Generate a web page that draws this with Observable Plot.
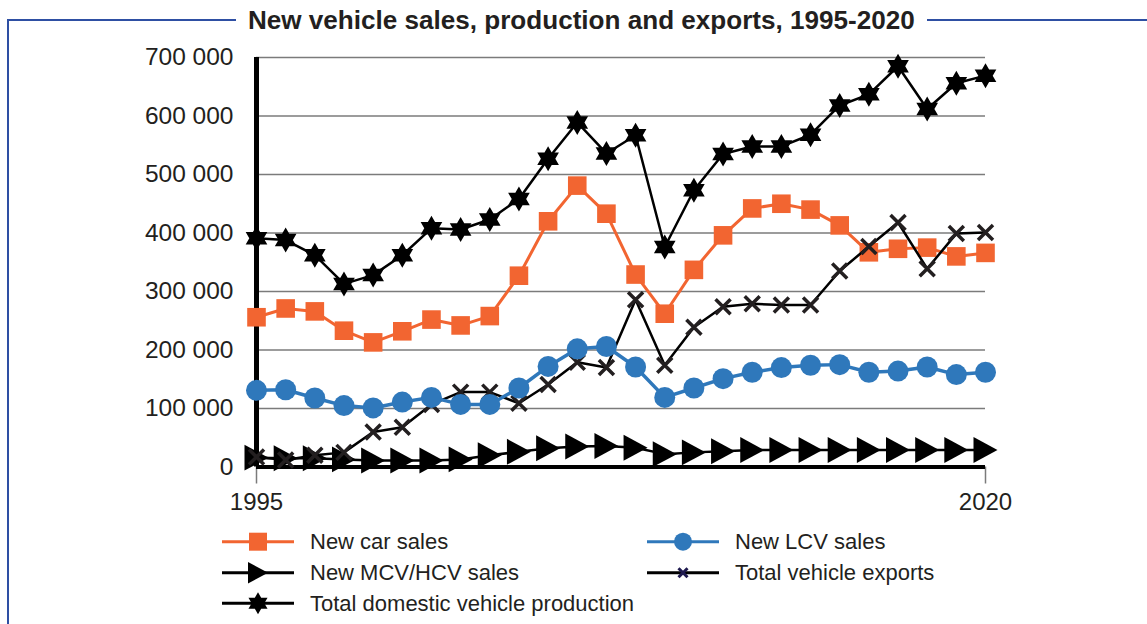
<!DOCTYPE html>
<html><head><meta charset="utf-8">
<script src="https://cdn.jsdelivr.net/npm/d3@7"></script>
<script src="https://cdn.jsdelivr.net/npm/@observablehq/plot@0.6"></script>
<style>
body{margin:0;background:#fff;}
#wrap{position:relative;width:1147px;height:624px;overflow:hidden;font-family:"Liberation Sans",Arial,sans-serif;color:#231f20;}
.fr{position:absolute;background:#2e4fa3;}
#title{position:absolute;top:4px;left:248px;white-space:nowrap;font-weight:bold;font-size:25px;line-height:32px;background:#fff;}
#chart{position:absolute;left:0;top:0;}
#legend{position:absolute;left:0;top:0;}
</style></head>
<body>
<div id="wrap">
  <div class="fr" style="left:7px;top:19px;width:229px;height:2px"></div>
  <div class="fr" style="left:927px;top:19px;width:220px;height:2px"></div>
  <div class="fr" style="left:7px;top:19px;width:2px;height:605px"></div>
  <div id="chart"></div>
  <svg id="legend" width="1147" height="624"></svg>
  <div id="title">New vehicle sales, production and exports, 1995-2020</div>
</div>
<script>
const years = [1995,1996,1997,1998,1999,2000,2001,2002,2003,2004,2005,2006,2007,2008,2009,2010,2011,2012,2013,2014,2015,2016,2017,2018,2019,2020];
const carSales = [256000,271000,266000,233000,213000,232000,252000,242000,258000,327000,420000,481000,433000,329000,262000,337000,396000,442000,450000,440000,413000,367000,373000,375000,360000,366000];
const lcvSales = [131000,132000,118000,105000,101000,111000,119000,107000,107000,135000,172000,202000,206000,171000,119000,135000,151000,162000,170000,174000,175000,162000,164000,171000,158000,162000];
const mcvSales = [16000,15000,15000,13000,11000,11000,11000,13000,20000,26000,32000,35000,36000,33000,22000,25000,27000,29000,29000,29000,29000,29000,29000,29000,29000,29000];
const vehicleExports = [17000,12000,20000,25000,60000,68000,107000,128000,128000,109000,141000,179000,170000,286000,174000,239000,274000,279000,277000,277000,335000,377000,418000,339000,399000,401000];
const production = [391000,388000,362000,313000,328000,362000,408000,406000,423000,458000,527000,589000,536000,567000,376000,473000,535000,548000,548000,568000,618000,637000,685000,612000,656000,669000];
const seriesNames = ["New car sales","New LCV sales","New MCV/HCV sales","Total vehicle exports","Total domestic vehicle production"];
const yTicks = [0,100000,200000,300000,400000,500000,600000,700000];
const xTicks = [1995,2020];

const ORANGE = "#f26531", BLUE = "#2f78bb", BLACK = "#000", DARK = "#231f20";

// custom symbols (size = pi r^2)
const rad = size => Math.sqrt(size/Math.PI);
const squareSym = {draw(c,s){const r=rad(s); c.rect(-r,-r,2*r,2*r);}};
const circleSym = {draw(c,s){const r=rad(s); c.moveTo(r,0); c.arc(0,0,r,0,2*Math.PI);}};
const triRight = {draw(c,s){const r=rad(s); c.moveTo(r,0); c.lineTo(-r,-r*1.08); c.lineTo(-r,r*1.08); c.closePath();}};
const timesSym = {draw(c,s){const r=rad(s); c.moveTo(-r,-r); c.lineTo(r,r); c.moveTo(r,-r); c.lineTo(-r,r);}};
const hexagram = {draw(c,s){const R=rad(s), q=R/Math.sqrt(3); for(let k=0;k<12;k++){const a=-Math.PI/2+k*Math.PI/6, rr=k%2?q:R; const x=rr*Math.cos(a), y=rr*Math.sin(a); if(k) c.lineTo(x,y); else c.moveTo(x,y);} c.closePath();}};

const rows = years.map((year,i)=>({year, car:carSales[i], lcv:lcvSales[i], mcv:mcvSales[i], exp:vehicleExports[i], prod:production[i]}));
const fmt = d => d3.format(",")(d).replace(/,/g," ");

const chart = Plot.plot({
  width:1147, height:520,
  marginLeft:256, marginRight:162, marginTop:57, marginBottom:53.5,
  style:{fontFamily:"Liberation Sans, Arial, sans-serif", fontSize:"24px", color:DARK, background:"transparent", overflow:"visible"},
  x:{domain:[1995,2020], label:null},
  y:{domain:[0,700000], label:null},
  marks:[
    Plot.gridY(yTicks,{stroke:"#7b7b7b", strokeOpacity:1, strokeWidth:1.5}),
    Plot.axisY(yTicks,{tickSize:0, tickPadding:23, tickFormat:fmt, fontSize:24.5, color:DARK, label:null}),
    Plot.axisX(xTicks,{tickSize:17, tickPadding:9, tickFormat:d=>String(d), fontSize:24, color:DARK, stroke:"#7b7b7b", strokeWidth:1.5, label:null}),
    Plot.ruleX([1995],{y1:0, y2:700000, stroke:BLACK, strokeWidth:5}),
    Plot.ruleY([0],{x1:1995, x2:2020, stroke:BLACK, strokeWidth:4}),
    Plot.line(rows,{x:"year", y:"mcv", stroke:BLACK, strokeWidth:2.5}),
    Plot.dot(rows,{x:"year", y:"mcv", symbol:triRight, r:12, fill:BLACK}),
    Plot.line(rows,{x:"year", y:"car", stroke:ORANGE, strokeWidth:3}),
    Plot.dot(rows,{x:"year", y:"car", symbol:squareSym, r:9.3, fill:ORANGE}),
    Plot.line(rows,{x:"year", y:"exp", stroke:BLACK, strokeWidth:2.5}),
    Plot.dot(rows,{x:"year", y:"exp", symbol:timesSym, r:7.5, fill:"none", stroke:DARK, strokeWidth:3.5}),
    Plot.line(rows,{x:"year", y:"lcv", stroke:BLUE, strokeWidth:3.5}),
    Plot.dot(rows,{x:"year", y:"lcv", symbol:circleSym, r:10.5, fill:BLUE}),
    Plot.line(rows,{x:"year", y:"prod", stroke:BLACK, strokeWidth:2.5}),
    Plot.dot(rows,{x:"year", y:"prod", symbol:hexagram, r:12.5, fill:BLACK})
  ]
});
document.getElementById("chart").appendChild(chart);

// fit title to the reference width
const title = document.getElementById("title");
const tw = title.getBoundingClientRect().width;
const fs = 25 * 667 / tw;
title.style.fontSize = fs + "px";

// legend
const legendItems = [
  {name:seriesNames[0], x:222, y:541.7, color:ORANGE, sym:squareSym, r:9, fill:ORANGE, stroke:"none", sw:0},
  {name:seriesNames[1], x:647, y:541.7, color:BLUE, sym:circleSym, r:9, fill:BLUE, stroke:"none", sw:0},
  {name:seriesNames[2], x:222, y:572.7, color:BLACK, sym:triRight, r:10, fill:BLACK, stroke:"none", sw:0},
  {name:seriesNames[3], x:647, y:572.7, color:BLACK, sym:timesSym, r:4.5, fill:"none", stroke:"#1f1a4f", sw:3},
  {name:seriesNames[4], x:222, y:603.3, color:BLACK, sym:hexagram, r:11, fill:BLACK, stroke:"none", sw:0}
];
const lg = d3.select("#legend");
legendItems.forEach(it=>{
  const g = lg.append("g").attr("transform",`translate(${it.x},${it.y})`);
  g.append("line").attr("x1",0).attr("x2",72).attr("stroke",it.color).attr("stroke-width",3);
  g.append("path").attr("transform","translate(36,0)").attr("d",d3.symbol(it.sym, Math.PI*it.r*it.r)()).attr("fill",it.fill).attr("stroke",it.stroke).attr("stroke-width",it.sw);
  g.append("text").attr("x",88).attr("dy","0.35em").attr("font-family","Liberation Sans, Arial, sans-serif").attr("font-size",22).attr("fill",DARK).text(it.name);
});
</script>
</body></html>
